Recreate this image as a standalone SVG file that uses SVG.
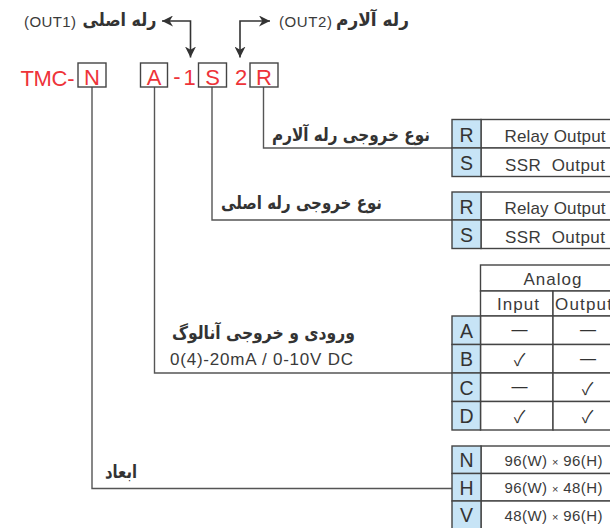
<svg xmlns="http://www.w3.org/2000/svg" width="610" height="528" viewBox="0 0 610 528">
<defs>
<style>
.bg{fill:#ffffff}
.red{font-family:"Liberation Sans",Arial,sans-serif;font-size:22px;fill:#ee3339}
.box{fill:#ffffff;stroke:#444;stroke-width:1.4}
.fa{font-family:"DejaVu Sans",sans-serif;font-weight:bold;font-size:18px;fill:#333}
.lat{font-family:"Liberation Sans",Arial,sans-serif;font-size:17px;fill:#3a3a3a}
.sm{font-family:"Liberation Sans",Arial,sans-serif;font-size:15px;fill:#3a3a3a}
.let{font-family:"Liberation Sans",Arial,sans-serif;font-size:19.5px;fill:#333;text-anchor:middle}
.dash{font-family:"Liberation Sans",sans-serif;font-size:16px;fill:#333;text-anchor:middle}
.chk{font-family:"Noto Sans CJK JP","DejaVu Sans",sans-serif;font-size:17px;fill:#333;text-anchor:middle}
.cell{fill:#ffffff;stroke:#444;stroke-width:1.4}
.key{fill:#c7e4f6;stroke:#444;stroke-width:1.4}
.conn{fill:none;stroke:#555;stroke-width:1.4}
.arr{fill:none;stroke:#333;stroke-width:1.6}
</style>
<marker id="ah" markerUnits="userSpaceOnUse" markerWidth="11" markerHeight="11" refX="10" refY="5" orient="auto-start-reverse" viewBox="0 0 10 10">
<path d="M0,0 L10,5 L0,10 L3,5 Z" fill="#333"/>
</marker>
</defs>
<rect class="bg" x="0" y="0" width="610" height="528"/>

<g id="connectors">
<path class="conn" d="M263.5,87 V148 H452"/>
<path class="conn" d="M212,87 V220 H452"/>
<path class="conn" d="M154.5,87 V373 H452"/>
<path class="conn" d="M92,87 V488.5 H452"/>
<path class="arr" d="M162,21 H190.5 V57.5" marker-start="url(#ah)" marker-end="url(#ah)"/>
<path class="arr" d="M240,57.5 V21 H270" marker-start="url(#ah)" marker-end="url(#ah)"/>
</g>

<g id="label-out1">
<text class="sm" x="24" y="26.5" textLength="52" lengthAdjust="spacing">(OUT1)</text>
<text class="fa" x="119.5" y="26" text-anchor="middle" textLength="74" lengthAdjust="spacingAndGlyphs">رله اصلی</text>
</g>
<g id="label-out2">
<text class="sm" x="279" y="26.5" textLength="53" lengthAdjust="spacing">(OUT2)</text>
<text class="fa" x="372.5" y="26" text-anchor="middle" textLength="73" lengthAdjust="spacingAndGlyphs">رله آلارم</text>
</g>

<g id="model-code">
<text class="red" x="20.5" y="86" textLength="54" lengthAdjust="spacing">TMC-</text>
<g id="box-N"><rect class="box" x="78" y="63" width="28" height="24"/><text class="red" x="92" y="85" text-anchor="middle">N</text></g>
<g id="box-A"><rect class="box" x="140.5" y="63" width="27" height="24"/><text class="red" x="154" y="85" text-anchor="middle">A</text></g>
<text class="red" x="177" y="84" text-anchor="middle">-</text>
<text class="red" x="189.5" y="85" text-anchor="middle">1</text>
<g id="box-S"><rect class="box" x="198.5" y="63" width="28" height="24"/><text class="red" x="212.5" y="85" text-anchor="middle">S</text></g>
<text class="red" x="241" y="85" text-anchor="middle">2</text>
<g id="box-R"><rect class="box" x="250" y="63" width="28" height="24"/><text class="red" x="264" y="85" text-anchor="middle">R</text></g>
</g>

<g id="label-alarm-type">
<text class="fa" x="351" y="140.5" text-anchor="middle" textLength="158" lengthAdjust="spacingAndGlyphs">نوع خروجی رله آلارم</text>
</g>
<g id="table-alarm">
<rect class="cell" x="481" y="119.5" width="140" height="28.5"/>
<rect class="cell" x="481" y="148" width="140" height="28.5"/>
<rect class="key" x="452" y="119.5" width="29" height="28.5"/>
<rect class="key" x="452" y="148" width="29" height="28.5"/>
<text class="let" x="466.5" y="141.5">R</text>
<text class="let" x="466.5" y="170">S</text>
<text class="lat" x="504.5" y="141.5" textLength="101" lengthAdjust="spacing">Relay Output</text>
<text class="lat" x="505" y="170.5" textLength="100" lengthAdjust="spacing" xml:space="preserve">SSR  Output</text>
</g>

<g id="label-main-type">
<text class="fa" x="301.5" y="209" text-anchor="middle" textLength="161" lengthAdjust="spacingAndGlyphs">نوع خروجی رله اصلی</text>
</g>
<g id="table-main">
<rect class="cell" x="481" y="192" width="140" height="28"/>
<rect class="cell" x="481" y="220" width="140" height="28.5"/>
<rect class="key" x="452" y="192" width="29" height="28"/>
<rect class="key" x="452" y="220" width="29" height="28.5"/>
<text class="let" x="466.5" y="213.5">R</text>
<text class="let" x="466.5" y="242">S</text>
<text class="lat" x="504.5" y="213.5" textLength="101" lengthAdjust="spacing">Relay Output</text>
<text class="lat" x="505" y="242.5" textLength="100" lengthAdjust="spacing" xml:space="preserve">SSR  Output</text>
</g>

<g id="label-analog">
<text class="fa" x="263.5" y="338.5" text-anchor="middle" textLength="183" lengthAdjust="spacingAndGlyphs">ورودی و خروجی آنالوگ</text>
<text class="lat" x="170" y="365" font-size="17.5" textLength="183" lengthAdjust="spacing">0(4)-20mA / 0-10V DC</text>
</g>
<g id="table-analog">
<rect class="cell" x="480.5" y="265" width="145" height="26"/>
<rect class="cell" x="480.5" y="291" width="72.5" height="25"/>
<rect class="cell" x="553" y="291" width="72.5" height="25"/>
<rect class="cell" x="480.5" y="316" width="72.5" height="28.5"/>
<rect class="cell" x="553" y="316" width="72.5" height="28.5"/>
<rect class="cell" x="480.5" y="344.5" width="72.5" height="28.5"/>
<rect class="cell" x="553" y="344.5" width="72.5" height="28.5"/>
<rect class="cell" x="480.5" y="373" width="72.5" height="28.5"/>
<rect class="cell" x="553" y="373" width="72.5" height="28.5"/>
<rect class="cell" x="480.5" y="401.5" width="72.5" height="28.5"/>
<rect class="cell" x="553" y="401.5" width="72.5" height="28.5"/>
<rect class="key" x="452" y="316" width="28.5" height="28.5"/>
<rect class="key" x="452" y="344.5" width="28.5" height="28.5"/>
<rect class="key" x="452" y="373" width="28.5" height="28.5"/>
<rect class="key" x="452" y="401.5" width="28.5" height="28.5"/>
<text class="lat" x="523.5" y="285" textLength="58" lengthAdjust="spacing">Analog</text>
<text class="lat" x="497" y="309.5" textLength="42" lengthAdjust="spacing">Input</text>
<text class="lat" x="555" y="309.5" textLength="57" lengthAdjust="spacing">Output</text>
<text class="let" x="466.5" y="337.5">A</text>
<text class="let" x="466.5" y="366">B</text>
<text class="let" x="466.5" y="394.5">C</text>
<text class="let" x="466.5" y="423">D</text>
<text class="dash" x="519.5" y="335">—</text>
<text class="dash" x="588" y="335">—</text>
<text class="chk" x="519.5" y="366">✓</text>
<text class="dash" x="588" y="363.5">—</text>
<text class="dash" x="519.5" y="392">—</text>
<text class="chk" x="587.5" y="394.5">✓</text>
<text class="chk" x="519.5" y="423">✓</text>
<text class="chk" x="587.5" y="423">✓</text>
</g>

<g id="label-size">
<text class="fa" x="121" y="477.5" text-anchor="middle" textLength="32" lengthAdjust="spacingAndGlyphs">ابعاد</text>
</g>
<g id="table-size">
<rect class="cell" x="481" y="446" width="140" height="27.5"/>
<rect class="cell" x="481" y="473.5" width="140" height="27.5"/>
<rect class="cell" x="481" y="501" width="140" height="28"/>
<rect class="key" x="452" y="446" width="29" height="27.5"/>
<rect class="key" x="452" y="473.5" width="29" height="27.5"/>
<rect class="key" x="452" y="501" width="29" height="28"/>
<text class="let" x="466.5" y="467">N</text>
<text class="let" x="466.5" y="494.5">H</text>
<text class="let" x="466.5" y="522">V</text>
<text class="sm" x="504.5" y="465.5" textLength="98" lengthAdjust="spacing">96(W) <tspan font-size="11">×</tspan> 96(H)</text>
<text class="sm" x="504.5" y="493" textLength="98" lengthAdjust="spacing">96(W) <tspan font-size="11">×</tspan> 48(H)</text>
<text class="sm" x="504.5" y="520.5" textLength="98" lengthAdjust="spacing">48(W) <tspan font-size="11">×</tspan> 96(H)</text>
</g>
</svg>
